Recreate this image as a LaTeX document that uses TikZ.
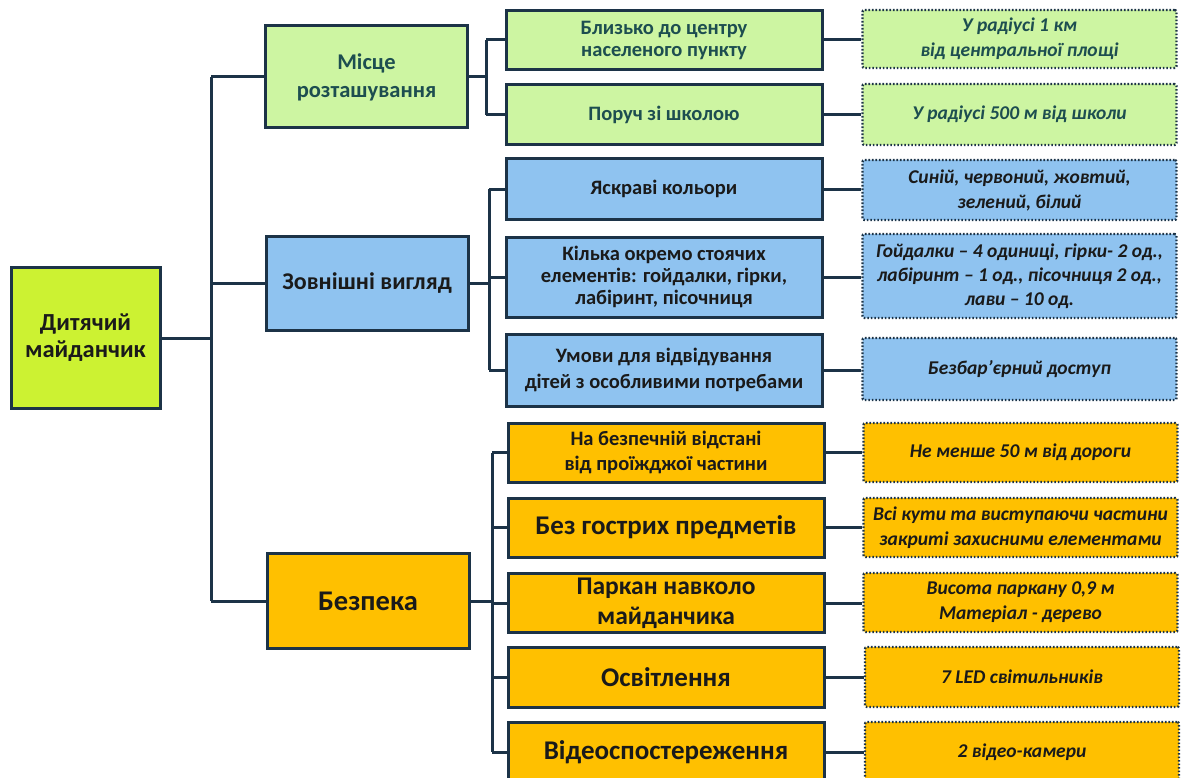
\documentclass[tikz,border=0pt]{standalone}
\usepackage{fontspec}
\setmainfont{Carlito}
\definecolor{rootc}{HTML}{CCF232}
\definecolor{greenc}{HTML}{CDF5A2}
\definecolor{bluec}{HTML}{8FC3F0}
\definecolor{orangec}{HTML}{FFC000}
\definecolor{edgec}{HTML}{1C3347}
\definecolor{tealc}{HTML}{1D4E50}
\definecolor{textc}{HTML}{1A1A1A}
\tikzset{
  box/.style={draw=edgec, line width=3pt, rectangle, inner sep=1pt, align=center, font=\bfseries},
  dbox/.style={draw=edgec, line width=2.4pt, dash pattern=on 1.6pt off 1.9pt, rounded corners=2pt, rectangle, inner sep=1pt, align=center, font=\bfseries\itshape},
  conn/.style={draw=edgec, line width=3pt},
  lone/.style={box, minimum width=202pt},
  ltwo/.style={box, minimum width=316pt},
  lthree/.style={dbox, minimum width=314pt},
  smallt/.style={font=\bfseries\fontsize{20.5}{22}\selectfont},
  bigt/.style={font=\bfseries\fontsize{27}{33}\selectfont},
  itt/.style={font=\bfseries\itshape\fontsize{19.5}{25}\selectfont},
}
\begin{document}
\begin{tikzpicture}[x=1pt,y=-1pt]
\useasboundingbox (0,0) rectangle (1182,778);
% root
\node[box, fill=rootc, text=textc, minimum width=149pt, minimum height=141pt, font=\bfseries\fontsize{24.5}{27}\selectfont] (root) at (85.5,338) {Дитячий\\майданчик};
% level 1
\node[lone, fill=greenc, text=tealc, minimum height=102pt, font=\bfseries\fontsize{22.5}{28}\selectfont] (m) at (366.5,77) {Місце\\розташування};
\node[lone, fill=bluec, text=textc, minimum height=94pt, font=\bfseries\fontsize{24}{28}\selectfont] (z) at (367,283) {Зовнішні вигляд};
\node[lone, fill=orangec, text=textc, minimum height=95pt, font=\bfseries\fontsize{28.5}{32}\selectfont] (b) at (368,601) {Безпека};
% level 2
\node[ltwo, fill=greenc, text=tealc, minimum height=59pt, smallt] (g1) at (664,40) {Близько до центру\\населеного пункту};
\node[ltwo, fill=greenc, text=tealc, minimum height=60pt, smallt] (g2) at (664,115) {Поруч зі школою};
\node[ltwo, fill=bluec, text=textc, minimum height=61pt, smallt] (u1) at (664,189) {Яскраві кольори};
\node[ltwo, fill=bluec, text=textc, minimum height=80pt, smallt] (u2) at (664,277) {Кілька окремо стоячих\\елементів: гойдалки, гірки,\\лабіринт, пісочниця};
\node[ltwo, fill=bluec, text=textc, minimum height=72pt, font=\bfseries\fontsize{20.5}{26}\selectfont] (u3) at (664,370) {Умови для відвідування\\дітей з особливими потребами};
\node[ltwo, fill=orangec, text=textc, minimum height=59pt, font=\bfseries\fontsize{20.5}{25}\selectfont] (o1) at (666,452.5) {На безпечній відстані\\від проїжджої частини};
\node[ltwo, fill=orangec, text=textc, minimum height=59pt, bigt] (o2) at (666,527.5) {Без гострих предметів};
\node[ltwo, fill=orangec, text=textc, minimum height=59pt, font=\bfseries\fontsize{25.5}{30}\selectfont] (o3) at (666,603) {Паркан навколо\\майданчика};
\node[ltwo, fill=orangec, text=textc, minimum height=60pt, bigt] (o4) at (666,677) {Освітлення};
\node[ltwo, fill=orangec, text=textc, minimum height=60pt, bigt] (o5) at (666,752) {Відеоспостереження};
% level 3
\node[lthree, fill=greenc, text=tealc, minimum height=58pt, itt] (dg1) at (1019.5,39) {У радіусі 1 км\\від центральної площі};
\node[lthree, fill=greenc, text=tealc, minimum height=61pt, itt] (dg2) at (1019.5,114.5) {У радіусі 500 м від школи};
\node[lthree, fill=bluec, text=textc, minimum height=60pt, itt] (db1) at (1019.5,190) {Синій, червоний, жовтий,\\зелений, білий};
\node[lthree, fill=bluec, text=textc, minimum height=84pt, font=\bfseries\itshape\fontsize{19.5}{24}\selectfont] (db2) at (1019.5,276) {Гойдалки – 4 одиниці, гірки- 2 од.,\\лабіринт – 1 од., пісочниця 2 од.,\\лави – 10 од.};
\node[lthree, fill=bluec, text=textc, minimum height=62pt, itt] (db3) at (1019.5,369) {Безбар’єрний доступ};
\node[lthree, fill=orangec, text=textc, minimum height=59pt, itt] (do1) at (1020.5,452.5) {Не менше 50 м від дороги};
\node[lthree, fill=orangec, text=textc, minimum height=59pt, itt] (do2) at (1020.5,527.5) {Всі кути та виступаючи частини\\закриті захисними елементами};
\node[lthree, fill=orangec, text=textc, minimum height=59pt, itt] (do3) at (1020.5,602.5) {Висота паркану 0,9 м\\Матеріал - дерево};
\node[lthree, fill=orangec, text=textc, minimum height=60pt, itt] (do4) at (1022,677) {7 LED світильників};
\node[lthree, fill=orangec, text=textc, minimum height=60pt, itt] (do5) at (1022,752) {2 відео-камери};
% trunk
\coordinate (t) at (211,0);
\draw[conn] (root.east) -- (root.east -| t);
\draw[conn] (t |- m.west) -- (t |- b.west);
\draw[conn] (t |- m.west) -- (m.west);
\draw[conn] (t |- z.west) -- (z.west);
\draw[conn] (t |- b.west) -- (b.west);
% branch green
\coordinate (bg) at (486,0);
\draw[conn] (m.east) -- (m.east -| bg);
\draw[conn] (bg |- g1.west) -- (bg |- g2.west);
\draw[conn] (bg |- g1.west) -- (g1.west);
\draw[conn] (bg |- g2.west) -- (g2.west);
% branch blue
\coordinate (bb) at (489,0);
\draw[conn] (z.east) -- (z.east -| bb);
\draw[conn] (bb |- u1.west) -- (bb |- u3.west);
\draw[conn] (bb |- u1.west) -- (u1.west);
\draw[conn] (bb |- u2.west) -- (u2.west);
\draw[conn] (bb |- u3.west) -- (u3.west);
% branch orange
\coordinate (bo) at (492,0);
\draw[conn] (b.east) -- (b.east -| bo);
\draw[conn] (bo |- o1.west) -- (bo |- o5.west);
\foreach \n in {o1,o2,o3,o4,o5} \draw[conn] (bo |- \n.west) -- (\n.west);
% level 2 -> level 3
\draw[conn] (g1.east) -- (g1.east -| dg1.west);
\draw[conn] (g2.east) -- (g2.east -| dg2.west);
\draw[conn] (u1.east) -- (u1.east -| db1.west);
\draw[conn] (u2.east) -- (u2.east -| db2.west);
\draw[conn] (u3.east) -- (u3.east -| db3.west);
\draw[conn] (o1.east) -- (o1.east -| do1.west);
\draw[conn] (o2.east) -- (o2.east -| do2.west);
\draw[conn] (o3.east) -- (o3.east -| do3.west);
\draw[conn] (o4.east) -- (o4.east -| do4.west);
\draw[conn] (o5.east) -- (o5.east -| do5.west);
\end{tikzpicture}
\end{document}
